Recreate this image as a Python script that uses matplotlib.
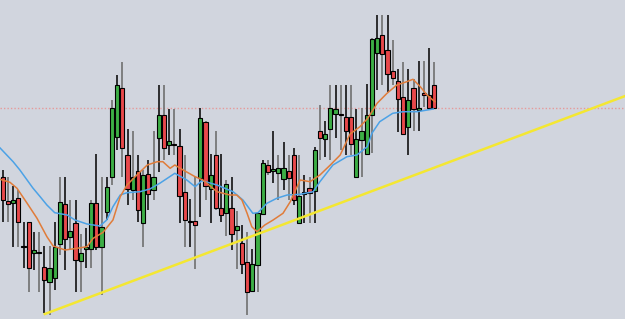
import numpy as np
import matplotlib
matplotlib.use("Agg")
import matplotlib.pyplot as plt

# OHLC (price units, 84 bars)
opens = [142, 118.3, 116, 121, 72.5, 97, 66, 67.5, 52.5, 37.5,
         41.5, 75, 115, 82, 96.5, 58.5, 70, 70, 116.5, 72.5,
         107.5, 142, 182.5, 231.5, 164.5, 129.5, 148, 96.5, 145.5, 129.5,
         181.5, 204.5, 174.5, 175.5, 173.5, 127.5, 97.5, 98.5, 141.5, 197.5,
         130.5, 164.5, 111.5, 106.5, 111.5, 89.5, 76.5, 57.5, 28.5, 54,
         105.5, 154.5, 148, 146.5, 140, 148, 164.5, 96.5, 125, 131.5,
         128.5, 188, 180.5, 190.5, 205.5, 205.5, 202.5, 202.5, 142.5, 179,
         165.5, 204, 266.5, 284.5, 269.5, 248, 238.5, 222.5, 192, 231.5,
         209, 226.5, 224, 234]
highs = [149, 142, 133, 129, 97, 97, 87, 87, 73, 73,
         97, 142, 142, 119, 119, 85, 91, 119, 165, 142,
         142, 219, 244, 257.5, 190.5, 188, 164.5, 149, 159, 188,
         234.5, 234.5, 210.5, 210.5, 190.5, 164.5, 120.5, 142.5, 211.5, 198,
         165.5, 188.5, 165, 139, 142.5, 108, 94.5, 87.5, 70.5, 107.5,
         159, 159, 188.5, 164, 177.5, 164, 171.5, 164.5, 144.5, 142.5,
         172, 214, 198, 234.5, 234.5, 234.5, 234.5, 234.5, 210.5, 211,
         235.5, 281, 304, 304, 304, 279, 250.5, 257.5, 250.5, 240,
         258, 258, 271.5, 257.5]
lows = [97, 97, 72, 72, 51, 27, 49, 27, 6, 4,
        29, 64, 49, 69, 27, 27, 51, 51, 69, 24,
        99, 134, 169, 142.5, 114, 119, 97, 72.5, 109, 119,
        147.5, 159, 164.5, 164.5, 96.5, 72.5, 72.5, 50.5, 102.5, 119,
        96.5, 109, 97, 83, 69, 50.5, 45, 4, 27, 27.5,
        104, 144, 136, 119, 129, 119, 114, 95, 96.5, 96.5,
        96.5, 159, 162, 159, 181.5, 169, 164.5, 164.5, 142, 142,
        165, 166, 229, 234, 227.5, 234, 187.5, 185.5, 164, 188,
        188.5, 212, 211, 210.5]
closes = [119, 114.7, 119, 97, 72, 51, 69, 66, 39, 51,
          72.5, 117, 80, 88.5, 59, 66, 72.5, 116.5, 72.5, 92,
          132.5, 211.5, 234, 171.5, 130.5, 142.5, 109, 144.5, 125.5, 142.5,
          204, 171.5, 178, 174, 123, 99.5, 97, 94, 201.5, 133,
          144, 111.5, 104.5, 135, 85.5, 93.5, 55, 27.5, 55, 106.5,
          156.5, 147.5, 150, 151.5, 151.5, 141.5, 119, 123, 127.5, 126.5,
          169, 181.5, 185, 211.5, 210.5, 204.5, 188.5, 175.5, 180.5, 188,
          204, 280.5, 281.5, 265.5, 245.5, 241.5, 220.5, 185.5, 219, 210.5,
          211.5, 224, 211.5, 211.5]

# moving averages (bar position, price)
slow_pos = [-0.5, 2, 3.3, 5.8, 7.2, 8.5, 10, 12.4, 13.9, 16.2, 18.7, 20, 21.2,
            22.6, 23.9, 26.4, 28.3, 30.2, 33.1, 35.4, 37, 38.3, 41.2, 44.3,
            46.2, 48.1, 49.1, 50.8, 52.7, 54.7, 57.2, 59.7, 61, 63.5, 66.2,
            68.1, 70.1, 71, 72.5, 75, 77, 79.7, 82.8]
slow_ma = [171, 157.3, 149, 131, 122.3, 114, 106.3, 104, 99, 95, 93, 99, 112.3,
           124, 126.3, 127.3, 130, 135.7, 145.7, 139, 132.3, 138.3, 134, 127.3,
           119, 105.7, 106.3, 115.7, 120.7, 124, 124.7, 127.3, 137.3, 154, 162.3,
           164, 172.3, 185.7, 197.3, 205.7, 207.3, 207.3, 210]
fast_pos = [-0.5, 1.4, 2.75, 4.7, 6.6, 8.5, 9.7, 12, 14.3, 16.2, 17.4, 19.3,
            21.2, 22.6, 23.9, 25.8, 27.8, 29.7, 30.8, 32.2, 33.1, 34.7, 37,
            38.5, 41.2, 43.7, 45, 46, 47, 47.9, 48.9, 50.4, 52, 53.9, 55.3,
            57.2, 59.1, 61, 63, 64.9, 66.8, 68.7, 70.2, 72, 73.9, 75.8, 77.7,
            78.9, 80.3, 81.6, 83.1]
fast_ma = [139.7, 136.7, 130.7, 115.7, 100.7, 82.3, 73, 69, 70.7, 72.3, 80.7,
           86.7, 99, 122.3, 134, 144, 154, 157.3, 157.3, 150.7, 154, 149, 142.3,
           139, 127.3, 124, 124, 119, 105.7, 92.3, 87.3, 94, 99, 105.7, 117.3,
           139, 137.3, 144, 154, 164, 185, 192.3, 200.7, 215.7, 225.7, 234,
           237.3, 239.7, 232.3, 224, 217.3]

trend_pos = [8.1, 119.7]
trend_price = [5, 223]
level = 211.5

bg = '#d1d5de'
fig = plt.figure(figsize=(6.25, 3.19), dpi=100, facecolor=bg)
ax = fig.add_axes([0, 0, 1, 1])
ax.set_facecolor(bg)

idx = np.arange(len(opens))
o = np.array(opens); c = np.array(closes)
up = c >= o
wick_col = ['#111111' if i % 2 == 0 else '#6f6f6f' for i in idx]
ax.vlines(idx, lows, highs, colors=wick_col, lw=1.2, zorder=2)

bottom = np.minimum(o, c)
height = np.maximum(np.abs(c - o), 0.8)
ax.bar(idx, height, bottom=bottom, width=0.8,
       color=np.where(up, '#3dae45', '#e8484b'),
       edgecolor='black', linewidth=0.8, zorder=3)

ax.axhline(level, color='#e69a9a', lw=1, ls=(0, (1, 1.5)), zorder=1)
ax.plot(slow_pos, slow_ma, color='#4ca2e6', lw=1.1, zorder=4)
ax.plot(fast_pos, fast_ma, color='#e07c3a', lw=1.1, zorder=4)
ax.plot(trend_pos, trend_price, color='#f4e732', lw=1.8, zorder=5)

ax.set_xlim(-0.52, 119.67)
ax.set_ylim(0, 319)
ax.axis('off')

fig.savefig('out.png', dpi=100, facecolor=bg)
